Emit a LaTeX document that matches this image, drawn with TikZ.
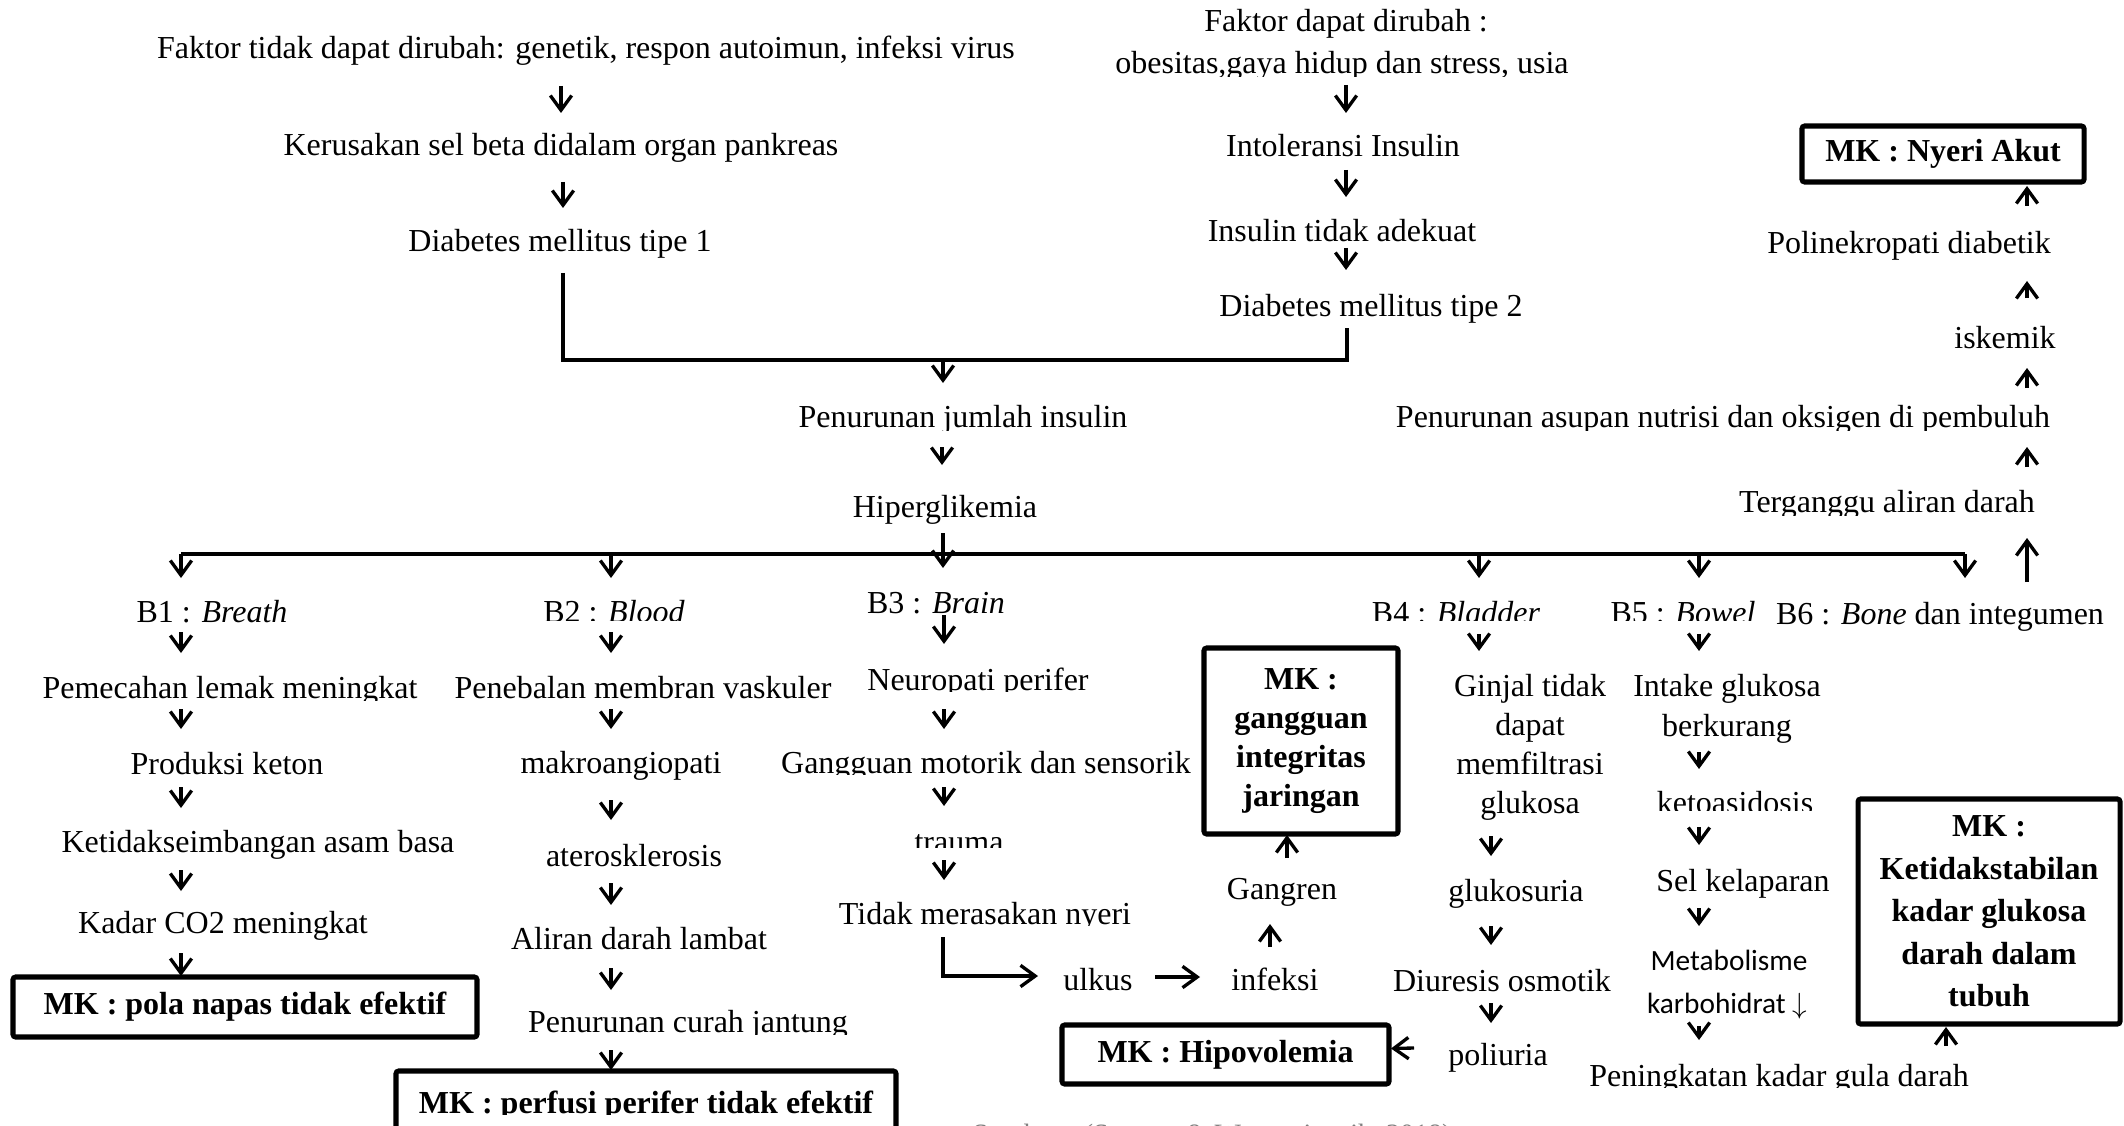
\documentclass[tikz,border=0pt]{standalone}
\usepackage{fontspec}
\setmainfont{Liberation Serif}
\newfontfamily\calibrifont{Carlito}
\usetikzlibrary{arrows.meta,calc}
\tikzset{
  txt/.style={inner sep=0pt, outer sep=0pt, anchor=base, font=\fontsize{12}{14}\selectfont},
  arr/.style={line width=1.25pt, -{Straight Barb[length=5.5pt,width=8pt]}},
  bigline/.style={line width=1.6pt},
  mkbox/.style={draw, line width=1.9pt, rounded corners=1pt, inner sep=0pt, outer sep=0pt, align=center, anchor=center},
  mkfont/.style={font=\fontsize{12}{14}\selectfont\bfseries},
  bw/.style={minimum width={#1*0.375pt}},
  bh/.style={minimum height={#1*0.375pt}},
}
\newcommand\cliptext[5]{\begin{scope}\clip (#2-700,#3-60) rectangle (#2+700,#4);\node[txt] (#1) at (#2,#3) {#5};\end{scope}}
\begin{document}
\begin{tikzpicture}[x=0.375pt,y=-0.375pt]
\useasboundingbox (0,0) rectangle (2124,1126);
\clip (0,0) rectangle (2124,1126);

% ---------- top left ----------
\node[txt] (f1) at (586,59) {Faktor tidak dapat dirubah: genetik, respon autoimun, infeksi virus};
\node[txt] (f2) at (561,156) {Kerusakan sel beta didalam organ pankreas};
\node[txt] (f3) at (560,251) {Diabetes mellitus tipe 1};

% ---------- top right ----------
\node[txt] (g1) at (1346,32) {Faktor dapat dirubah :};
\cliptext{g2}{1342}{74}{77}{obesitas,gaya hidup dan stress, usia}
\node[txt] (g3) at (1343,157) {Intoleransi Insulin};
\node[txt] (g4) at (1342,242) {Insulin tidak adekuat};
\node[txt] (g5) at (1371,317) {Diabetes mellitus tipe 2};

% ---------- centre ----------
\cliptext{pj}{963}{427}{430}{Penurunan jumlah insulin}
\node[txt] (hg) at (945,517) {Hiperglikemia};

% ---------- right chain ----------
\node[mkbox, mkfont, bw=282, bh=56] (nyeri) at (1943,154) {MK : Nyeri Akut};
\node[txt] (pd) at (1909,254) {Polinekropati diabetik};
\node[txt] (isk) at (2005,348) {iskemik};
\cliptext{pan}{1723}{427}{430}{Penurunan asupan nutrisi dan oksigen di pembuluh}
\cliptext{tad}{1887}{512}{515}{Terganggu aliran darah}

% ---------- B row ----------
\node[txt] (b1) at (212,622) {B1 : \textit{Breath}};
\cliptext{b2}{614}{622}{620}{B2 : \textit{Blood}}
\node[txt] (b3) at (936,613) {B3 : \textit{Brain}};
\cliptext{b4}{1456}{623}{620}{B4 : \textit{Bladder}}
\cliptext{b5}{1683}{623}{620}{B5 : \textit{Bowel}}
\node[txt] (b6) at (1940,624) {B6 : \textit{Bone} dan integumen};

% ---------- B1 column ----------
\cliptext{p1}{230}{698}{700}{Pemecahan lemak meningkat}
\node[txt] (p2) at (227,774) {Produksi keton};
\node[txt] (p3) at (258,852) {Ketidakseimbangan asam basa};
\node[txt] (p4) at (223,933) {Kadar CO2 meningkat};
\node[mkbox, mkfont, bw=464, bh=60] (mk1) at (245,1007) {MK : pola napas tidak efektif};

% ---------- B2 column ----------
\cliptext{q1}{643}{698}{700}{Penebalan membran vaskuler}
\node[txt] (q2) at (621,773) {makroangiopati};
\node[txt] (q3) at (634,866) {aterosklerosis};
\node[txt] (q4) at (639,949) {Aliran darah lambat};
\cliptext{q5}{688}{1032}{1034}{Penurunan curah jantung}
\node[mkbox, bw=500, bh=69] (mk2) at (646,1105.5) {};
\begin{scope}\clip (300,1060) rectangle (1000,1114);
\node[txt, mkfont, anchor=base] (mk2t) at (646,1113) {MK : perfusi perifer tidak efektif};
\end{scope}

% ---------- B3 column ----------
\cliptext{n1}{978}{690}{691}{Neuropati perifer}
\cliptext{n2}{986}{773}{774}{Gangguan motorik dan sensorik}
\cliptext{n3}{959}{852}{847}{trauma}
\cliptext{n4}{985}{924}{925}{Tidak merasakan nyeri}
\node[txt] (ul) at (1098,990) {ulkus};
\node[txt] (inf) at (1275,990) {infeksi};
\node[txt] (gg) at (1282,899) {Gangren};
\node[mkbox, font=\fontsize{12}{14.6}\selectfont\bfseries, bw=194, bh=186] (mk3) at (1301,741) {MK :\\gangguan\\integritas\\jaringan};
\node[mkbox, mkfont, bw=327, bh=59] (mk4) at (1225.5,1054.5) {MK : Hipovolemia};

% ---------- B4 column ----------
\node[txt] (k1) at (1530,696) {Ginjal tidak};
\node[txt] (k2) at (1530,735) {dapat};
\node[txt] (k3) at (1530,774) {memfiltrasi};
\node[txt] (k4) at (1530,813) {glukosa};
\node[txt] (k5) at (1516,901) {glukosuria};
\node[txt] (k6) at (1502,991) {Diuresis osmotik};
\node[txt] (k7) at (1498,1065) {poliuria};

% ---------- B5 column ----------
\node[txt] (m1) at (1727,696) {Intake glukosa};
\node[txt] (m2) at (1727,736) {berkurang};
\cliptext{m3}{1735}{813}{810}{ketoasidosis}
\node[txt] (m4) at (1743,891) {Sel kelaparan};
\node[txt, font=\calibrifont\fontsize{11}{13}\selectfont] (m5) at (1729,970) {Metabolisme};
\node[txt, font=\calibrifont\fontsize{11}{13}\selectfont] (m6) at (1727,1013) {karbohidrat $\downarrow$};
\cliptext{m7}{1779}{1086}{1087}{Peningkatan kadar gula darah}
\node[mkbox, font=\fontsize{12}{15.9}\selectfont\bfseries, bw=262, bh=225] (mk5) at (1989,911.5) {MK :\\Ketidakstabilan\\kadar glukosa\\darah dalam\\tubuh};

% source line (cut by the page edge)
\node[txt, text=gray, font=\fontsize{10.5}{12}\selectfont] (src) at (1212,1143) {Sumber : (Suyono \& Wuryaningsih, 2018)};

% ---------- connectors: top ----------
\draw[arr] ($(f1.base)+(-25,27)$) -- ($(f2.base)+(0,-43)$);
\draw[arr] ($(f2.base)+(2,26)$) -- ($(f3.base)+(3,-43)$);
\draw[bigline] ($(f3.base)+(3,22)$) |- ($(g5.base)+(-24,43)$) -- ($(g5.base)+(-24,11)$);
\coordinate (jn) at (943,360);
\draw[arr] (jn) -- ($(pj.base)+(-20,-44)$);
\draw[arr] ($(g2.base)+(4,11)$) -- ($(g3.base)+(3,-44)$);
\draw[arr] ($(g3.base)+(3,13)$) -- ($(g4.base)+(4,-45)$);
\draw[arr] ($(g4.base)+(4,6)$) -- ($(g5.base)+(-25,-47)$);

% ---------- connectors: centre ----------
\draw[arr] ($(pj.base)+(-21,20)$) -- ($(hg.base)+(-3,-52)$);
\draw[arr] ($(hg.base)+(-2,16)$) -- ($(b3.base)+(7,-45)$);
\coordinate (h1) at (181,554);
\coordinate (h2) at (611,554);
\coordinate (h4) at (1479,554);
\coordinate (h5) at (1699,554);
\coordinate (h6) at (1965,554);
\draw[bigline] (h1) -- (h6);
\draw[arr] (h1) -- ($(b1.base)+(-31,-44)$);
\draw[arr] (h2) -- ($(b2.base)+(-3,-44)$);
\draw[arr] (h4) -- ($(b4.base)+(23,-45)$);
\draw[arr] (h5) -- ($(b5.base)+(16,-45)$);
\draw[arr] (h6) -- ($(b6.base)+(25,-46)$);

% ---------- connectors: right chain ----------
\coordinate (tb) at (2027,582);
\draw[arr] (tb) -- ($(tad.base)+(140,26)$);
\draw[arr] ($(tad.base)+(140,-45)$) -- ($(pan.base)+(304,20)$);
\draw[arr] ($(pan.base)+(304,-39)$) -- ($(isk.base)+(22,20)$);
\draw[arr] ($(isk.base)+(22,-50)$) -- ($(pd.base)+(118,27)$);
\draw[arr] ($(pd.base)+(118,-48)$) -- ($(nyeri.south)+(84,4)$);

% ---------- B1 ----------
\draw[arr] ($(b1.base)+(-31,10)$) -- ($(p1.base)+(-49,-45)$);
\draw[arr] ($(p1.base)+(-49,11)$) -- ($(p2.base)+(-46,-45)$);
\draw[arr] ($(p2.base)+(-46,13)$) -- ($(p3.base)+(-77,-44)$);
\draw[arr] ($(p3.base)+(-77,18)$) -- ($(p4.base)+(-42,-42)$);
\draw[arr] ($(p4.base)+(-42,20)$) -- ($(mk1.north)+(-64,-1)$);

% ---------- B2 ----------
\draw[arr] ($(b2.base)+(-3,10)$) -- ($(q1.base)+(-32,-45)$);
\draw[arr] ($(q1.base)+(-32,11)$) -- ($(q2.base)+(-10,-44)$);
\draw[arr] ($(q2.base)+(-10,27)$) -- ($(q3.base)+(-23,-46)$);
\draw[arr] ($(q3.base)+(-23,17)$) -- ($(q4.base)+(-28,-44)$);
\draw[arr] ($(q4.base)+(-28,19)$) -- ($(q5.base)+(-77,-42)$);
\draw[arr] ($(q5.base)+(-77,18)$) -- ($(mk2.north)+(-35,-1)$);

% ---------- B3 ----------
\draw[arr] ($(b3.base)+(8,2)$) -- ($(n1.base)+(-34,-46)$);
\draw[arr] ($(n1.base)+(-34,19)$) -- ($(n2.base)+(-42,-44)$);
\draw[arr] ($(n2.base)+(-42,14)$) -- ($(n3.base)+(-15,-46)$);
\draw[arr] ($(n3.base)+(-15,8)$) -- ($(n4.base)+(-41,-44)$);
\draw[arr] ($(n4.base)+(-42,13)$) |- ($(ul.base)+(-60,-14)$);
\draw[arr] ($(ul.base)+(57,-13)$) -- ($(inf.base)+(-75,-13)$);
\draw[arr] ($(inf.base)+(-5,-43)$) -- ($(gg.base)+(-12,25)$);
\draw[arr] ($(gg.base)+(5,-41)$) -- ($(mk3.south)+(-14,1)$);

% ---------- B4 ----------
\draw[arr] ($(b4.base)+(23,11)$) -- ($(k1.base)+(-51,-45)$);
\draw[arr] ($(k4.base)+(-39,23)$) -- ($(k5.base)+(-25,-45)$);
\draw[arr] ($(k5.base)+(-25,25)$) -- ($(k6.base)+(-11,-46)$);
\draw[arr] ($(k6.base)+(-11,12)$) -- ($(k7.base)+(-7,-42)$);
\draw[arr] ($(k7.base)+(-84,-17)$) -- ($(mk4.east)+(2,-6)$);

% ---------- B5 ----------
\draw[arr] ($(b5.base)+(16,11)$) -- ($(m1.base)+(-28,-45)$);
\draw[arr] ($(m2.base)+(-28,16)$) -- ($(m3.base)+(-36,-44)$);
\draw[arr] ($(m3.base)+(-36,14)$) -- ($(m4.base)+(-44,-46)$);
\draw[arr] ($(m4.base)+(-44,17)$) -- ($(m5.base)+(-30,-44)$);
\draw[arr] ($(m6.base)+(-28,13)$) -- ($(m7.base)+(-80,-46)$);
\draw[arr] ($(m7.base)+(167,-40)$) -- ($(mk5.south)+(-43,3)$);
\end{tikzpicture}
\end{document}
